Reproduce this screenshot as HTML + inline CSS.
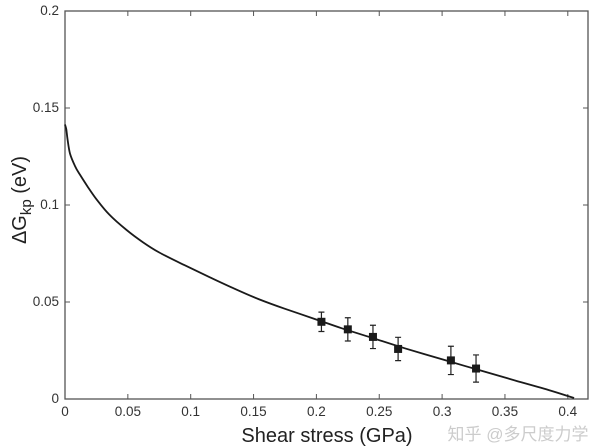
<!DOCTYPE html>
<html><head><meta charset="utf-8"><style>
body{margin:0;background:#fff;}
svg{display:block;font-family:"Liberation Sans","Noto Sans CJK SC",sans-serif;}
</style></head><body>
<svg id="chart" width="600" height="448" viewBox="0 0 600 448">
<g id="axes"></g>
<g id="marks"></g>
<text x="26" y="200" transform="rotate(-90 26 200)" text-anchor="middle" font-size="20" fill="#222">ΔG<tspan font-size="15" dy="5">kp</tspan><tspan dy="-5"> (eV)</tspan></text>
<text x="327" y="442" text-anchor="middle" font-size="20" fill="#222">Shear stress (GPa)</text>
<text x="518" y="440" text-anchor="middle" font-size="17" fill="#ccc">知乎 @多尺度力学</text>
</svg>
<script>
const xTicks=[0,0.05,0.1,0.15,0.2,0.25,0.3,0.35,0.4];
const xTickLabels=["0","0.05","0.1","0.15","0.2","0.25","0.3","0.35","0.4"];
const yTicks=[0,0.05,0.1,0.15,0.2];
const yTickLabels=["0","0.05","0.1","0.15","0.2"];
const curveX=[0,0.001,0.002,0.004,0.008,0.012,0.018,0.025,0.035,0.049,0.062,0.075,0.095,0.115,0.135,0.154,0.175,0.199,0.22,0.242,0.27,0.302,0.33,0.36,0.385,0.405];
const curveY=[0.1415,0.139,0.134,0.1265,0.12,0.1155,0.1095,0.103,0.0952,0.0871,0.0808,0.0755,0.069,0.0628,0.0568,0.0515,0.0465,0.0412,0.0365,0.032,0.0262,0.0201,0.0148,0.0092,0.0046,0.0005];
const pointX=[0.204,0.225,0.245,0.265,0.307,0.327];
const pointY=[0.0398,0.0359,0.032,0.0258,0.0199,0.0157];
const pointErr=[0.005,0.006,0.006,0.006,0.0073,0.007];
const L=65,R=588,T=11,B=399;
const sx=v=>L+v*1257, sy=v=>B-v*(B-T)/0.2;
const NS="http://www.w3.org/2000/svg";
function mk(tag,attrs,parent){const e=document.createElementNS(NS,tag);for(const k in attrs)e.setAttribute(k,attrs[k]);parent.appendChild(e);return e;}
const ax=document.getElementById('axes'),mg=document.getElementById('marks');
const box=mk('rect',{x:L,y:T,width:R-L,height:B-T,fill:'none',stroke:'#555','stroke-width':1.3},ax);


xTicks.forEach((v,i)=>{const x=sx(v);
 const t1=mk('line',{x1:x,x2:x,y1:B,y2:B-5,stroke:'#555'},ax);
 
 
 const t2=mk('line',{x1:x,x2:x,y1:T,y2:T+5,stroke:'#555'},ax);
 
 
 const tx=mk('text',{x:x,y:416,'text-anchor':'middle','font-size':13.5,fill:'#333'},ax);tx.textContent=xTickLabels[i];
 
 
});
yTicks.forEach((v,i)=>{const y=sy(v);
 const t1=mk('line',{x1:L,x2:L+5,y1:y,y2:y,stroke:'#555'},ax);
 
 
 const t2=mk('line',{x1:R,x2:R-5,y1:y,y2:y,stroke:'#555'},ax);
 
 
 const tx=mk('text',{x:L-6,y:y+4,'text-anchor':'end','font-size':13.5,fill:'#333'},ax);tx.textContent=yTickLabels[i];
 
 
});
const P=curveX.map((v,i)=>[sx(v),sy(curveY[i])]);
let d='M'+P[0][0].toFixed(1)+','+P[0][1].toFixed(1);
for(let i=0;i<P.length-1;i++){const p0=P[Math.max(i-1,0)],p1=P[i],p2=P[i+1],p3=P[Math.min(i+2,P.length-1)];
 const c1=[p1[0]+(p2[0]-p0[0])/6,p1[1]+(p2[1]-p0[1])/6],c2=[p2[0]-(p3[0]-p1[0])/6,p2[1]-(p3[1]-p1[1])/6];
 d+=`C${c1[0].toFixed(1)},${c1[1].toFixed(1)} ${c2[0].toFixed(1)},${c2[1].toFixed(1)} ${p2[0].toFixed(1)},${p2[1].toFixed(1)}`;}
const cp=mk('path',{d:d,fill:'none',stroke:'#1a1a1a','stroke-width':1.8},mg);


pointX.forEach((v,i)=>{const x=sx(v),y=sy(pointY[i]),y1=sy(pointY[i]+pointErr[i]),y2=sy(pointY[i]-pointErr[i]);
 const eb=mk('path',{d:`M${x},${y1}V${y2}M${x-3},${y1}H${x+3}M${x-3},${y2}H${x+3}`,stroke:'#222','stroke-width':1.2,fill:'none'},mg);
 
 
 const r=mk('rect',{x:x-4,y:y-4,width:8,height:8,fill:'#1a1a1a'},mg);
 
 
});
</script>
</body></html>
